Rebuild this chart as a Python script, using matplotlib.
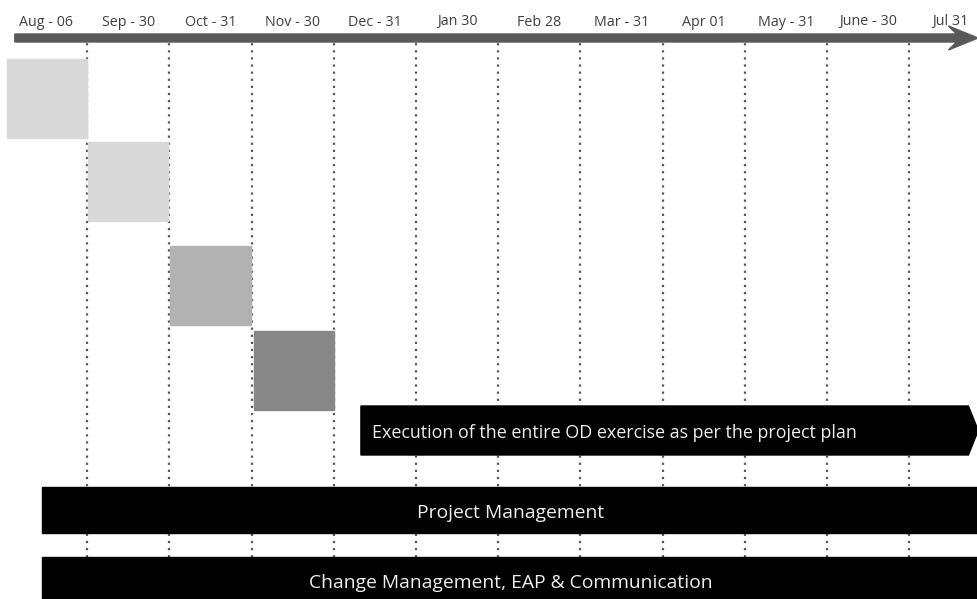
import matplotlib.pyplot as plt
from matplotlib.patches import Polygon, Rectangle

plt.rcParams['font.family'] = ['Open Sans', 'DejaVu Sans']

# timeline columns (one per month)
months = ["Aug - 06", "Sep - 30", "Oct - 31", "Nov - 30", "Dec - 31", "Jan 30",
          "Feb 28", "Mar - 31", "Apr 01", "May - 31", "June - 30", "Jul 31"]

# phase boxes: start, end (in months), top, bottom (rows), shade
box_start = [0.02, 1.01, 2.01, 3.03]
box_end = [1.0, 1.98, 2.99, 4.0]
box_top = [59, 142, 246, 331]
box_bottom = [138, 221, 325, 410]
box_color = ["#d9d9d9", "#d9d9d9", "#b2b2b2", "#878787"]

# black bands
band_labels = ["Execution of the entire OD exercise as per the project plan",
               "Project Management",
               "Change Management, EAP & Communication"]
band_start = [4.33, 0.45, 0.45]
band_end = [11.72, 12.0, 12.0]
band_top = [406, 487, 557]
band_bottom = [455, 533, 605]

px = 82.2
x0 = -5 / px
fig = plt.figure(figsize=(9.78, 5.99), dpi=100)
ax = fig.add_axes([0, 0, 1, 1])
ax.set_xlim(x0, x0 + 978 / px)
ax.set_ylim(599, 0)
ax.axis("off")

# dotted month separators
for i in range(1, len(months)):
    ax.plot([i, i], [36, 599], color="#595959", lw=1.6, ls=(0, (1, 2.2)), zorder=1)

# month labels
for i, m in enumerate(months):
    ax.text(i + 0.5, 22, m, ha="center", va="center", fontsize=10.3, color="#404040")

# timeline arrow
xe = x0 + 978 / px
shaft = Polygon([(0.12, 34), (xe - 0.26, 34), (xe - 0.36, 26), (xe, 38),
                 (xe - 0.36, 50), (xe - 0.26, 42), (0.12, 42)],
                closed=True, color="#595959", zorder=3)
ax.add_patch(shaft)

for s, e, t, b, c in zip(box_start, box_end, box_top, box_bottom, box_color):
    ax.add_patch(Rectangle((s, t), e - s, b - t, color=c, zorder=2))

# execution arrow band
s, e, t, b = band_start[0], band_end[0], band_top[0], band_bottom[0]
ax.add_patch(Polygon([(s, t), (e, t), (e + 0.12, (t + b) / 2), (e, b), (s, b)],
                     closed=True, color="black", zorder=2))
ax.text(s + 0.13, (t + b) / 2 + 2.5, band_labels[0], ha="left", va="center",
        fontsize=12.9, color="#eeeeee", zorder=4)

for lab, s, e, t, b in zip(band_labels[1:], band_start[1:], band_end[1:],
                           band_top[1:], band_bottom[1:]):
    ax.add_patch(Rectangle((s, t), e - s, b - t, color="black", zorder=2))
    ax.text(6.15, t + 26, lab, ha="center", va="center", fontsize=13.9,
            color="#eeeeee", zorder=4)

fig.savefig("out.png", dpi=100)
